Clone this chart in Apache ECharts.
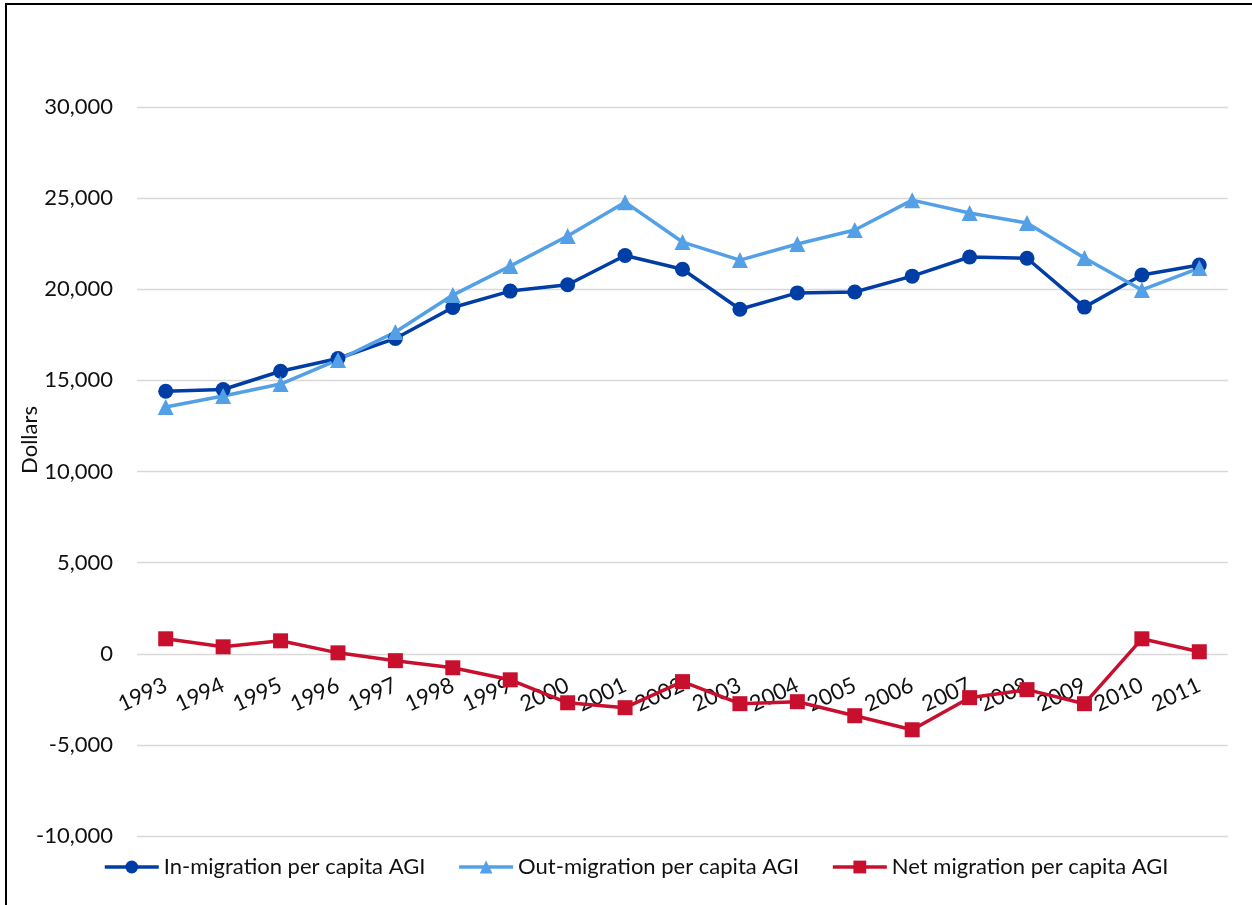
<!DOCTYPE html>
<html>
<head>
<meta charset="utf-8">
<title>Migration per capita AGI</title>
<script src="https://cdn.jsdelivr.net/npm/echarts@6/dist/echarts.min.js"></script>
<style>
  html, body { margin: 0; padding: 0; background: #fff; overflow: hidden; }
  #main { width: 1252px; height: 905px; }
  .frame {
    position: absolute;
    left: 5px;
    top: 3px;
    width: 1300px;
    height: 1000px;
    border: 2px solid #000;
    pointer-events: none;
  }
</style>
</head>
<body>
<div id="main"></div>
<div class="frame"></div>
<script>
var years = ['1993', '1994', '1995', '1996', '1997', '1998', '1999', '2000', '2001', '2002',
  '2003', '2004', '2005', '2006', '2007', '2008', '2009', '2010', '2011']
var inMigration = [14400, 14500, 15500, 16200, 17300, 19000, 19900, 20250, 21850, 21100,
  18900, 19800, 19850, 20720, 21770, 21700, 19020, 20780, 21330]
var outMigration = [13540, 14140, 14800, 16120, 17650, 19680, 21270, 22920, 24780, 22590,
  21600, 22480, 23250, 24890, 24180, 23630, 21710, 19960, 21160]
var netMigration = [820, 380, 710, 50, -380, -770, -1430, -2690, -2960, -1530,
  -2740, -2630, -3400, -4170, -2410, -1970, -2740, 820, 110]

var fontFamily = 'Lato, "Open Sans", sans-serif'
var colors = ['#003DA5', '#54A0E6', '#C8102E']

var myChart = echarts.init(document.getElementById('main'))
myChart.setOption({
  animation: false,
  color: colors,
  textStyle: { fontFamily: fontFamily },
  grid: {
    left: 137,
    right: 24,
    top: 107,
    bottom: 69,
    containLabel: false
  },
  legend: {
    left: 103,
    top: 856,
    padding: 0,
    itemWidth: 54,
    itemHeight: 16,
    itemGap: 32,
    lineStyle: { width: 3.5 },
    textStyle: { fontSize: 22, color: '#111', fontFamily: fontFamily },
    data: ['In-migration per capita AGI', 'Out-migration per capita AGI', 'Net migration per capita AGI']
  },
  graphic: [
    {
      type: 'text',
      x: 30,
      y: 440,
      rotation: Math.PI / 2,
      style: {
        text: 'Dollars',
        fontSize: 22,
        fontFamily: fontFamily,
        fill: '#111',
        align: 'center',
        verticalAlign: 'middle'
      }
    }
  ],
  xAxis: {
    type: 'category',
    data: years,
    boundaryGap: true,
    // labels sit next to the zero line, 182px above the plot bottom
    offset: -182,
    axisLine: { show: false, onZero: false },
    axisTick: { show: false },
    axisLabel: {
      rotate: 25,
      margin: 30,
      interval: 0,
      fontSize: 22,
      color: '#111'
    },
    splitLine: { show: false }
  },
  yAxis: {
    type: 'value',
    min: -10000,
    max: 30000,
    interval: 5000,
    axisLine: { show: false },
    axisTick: { show: false },
    axisLabel: {
      margin: 24,
      fontSize: 22,
      color: '#111',
      formatter: function (v) {
        return v.toLocaleString('en-US')
      }
    },
    splitLine: { lineStyle: { color: '#d9d9d9', width: 1.3 } }
  },
  series: [
    {
      name: 'In-migration per capita AGI',
      type: 'line',
      data: inMigration,
      symbol: 'circle',
      symbolSize: 15,
      lineStyle: { width: 3.5, color: colors[0] },
      itemStyle: { color: colors[0] }
    },
    {
      name: 'Out-migration per capita AGI',
      type: 'line',
      data: outMigration,
      symbol: 'triangle',
      symbolSize: 16,
      lineStyle: { width: 3.5, color: colors[1] },
      itemStyle: { color: colors[1] }
    },
    {
      name: 'Net migration per capita AGI',
      type: 'line',
      data: netMigration,
      symbol: 'rect',
      symbolSize: 15,
      lineStyle: { width: 3.5, color: colors[2] },
      itemStyle: { color: colors[2] }
    }
  ]
})
</script>
</body>
</html>
